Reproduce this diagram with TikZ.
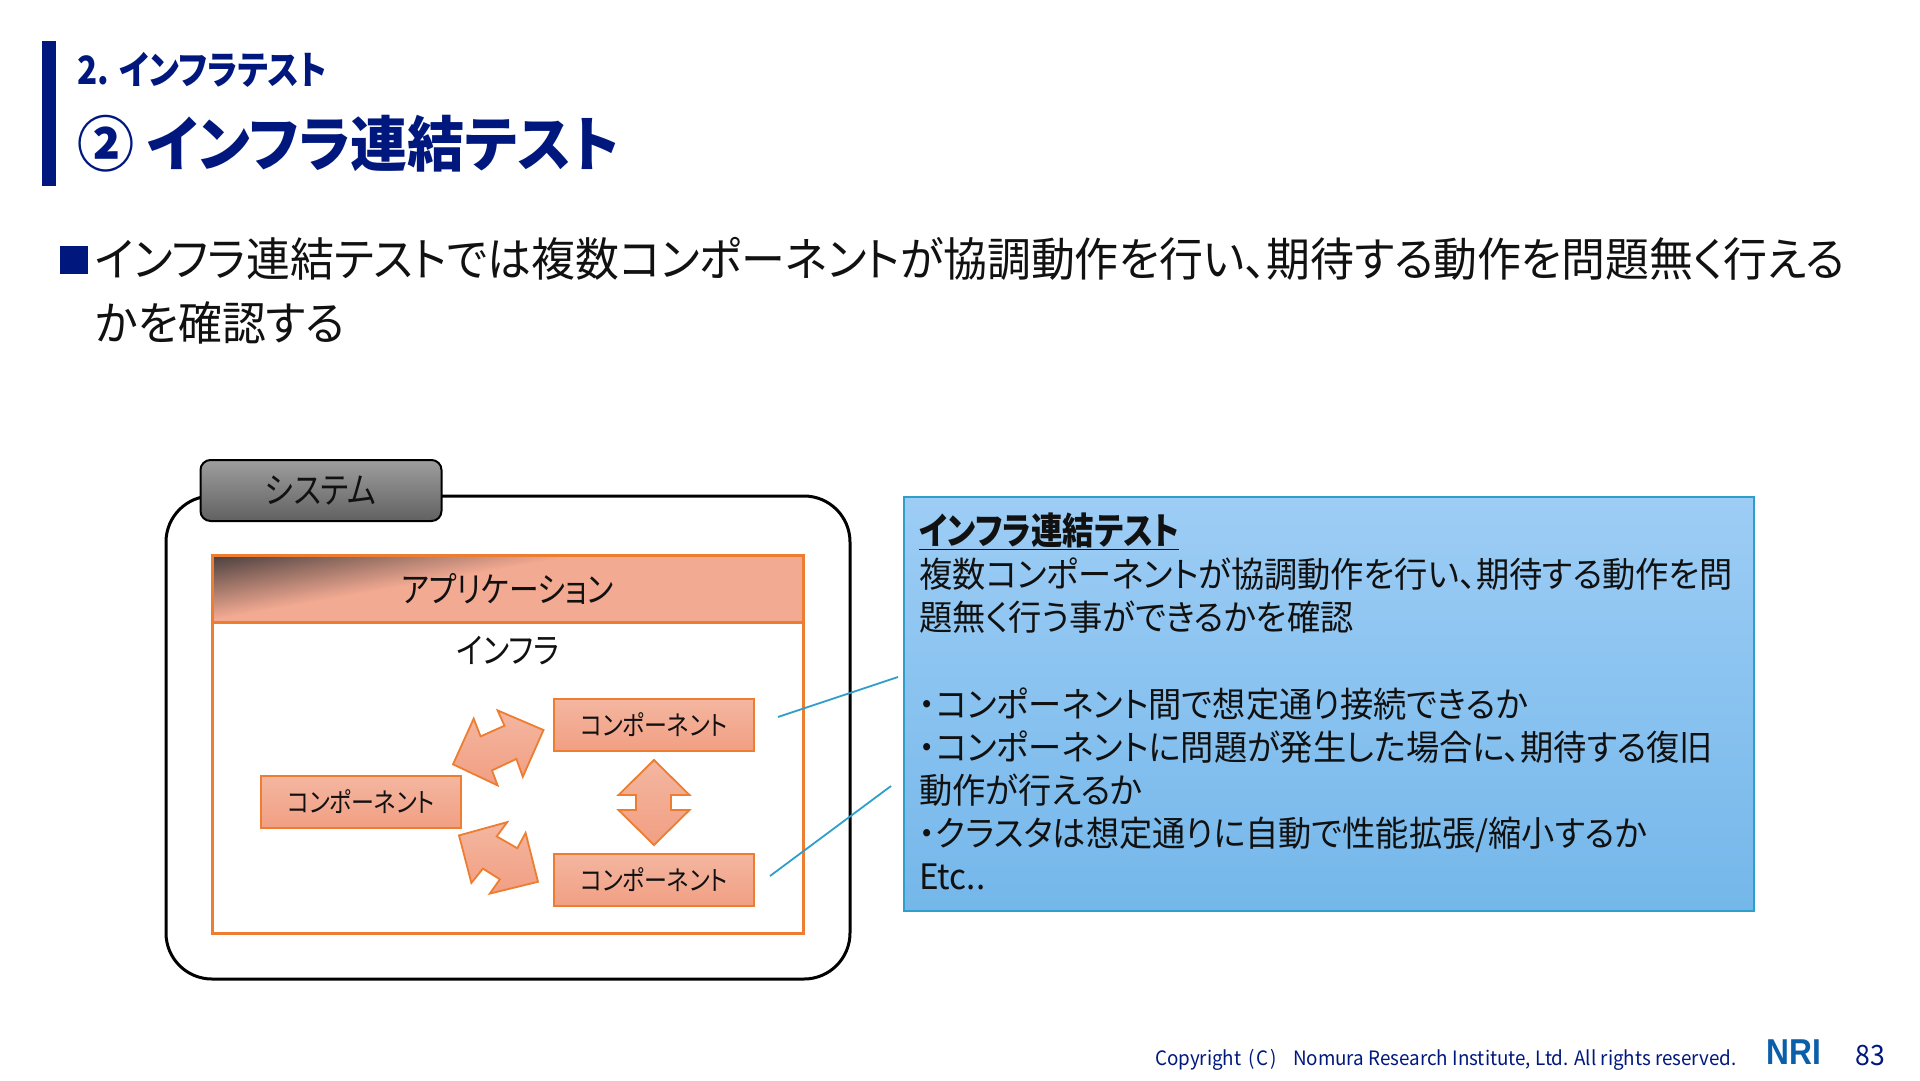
\documentclass[tikz,border=0pt]{standalone}
\usepackage{fontspec}
\usepackage{xcolor}
\usepackage{tikz}
\setmainfont{Noto Sans CJK JP}[RawFeature=+palt, FakeStretch=0.95]
\newfontfamily\kanafont{Noto Sans CJK JP}[RawFeature=+palt, FakeStretch=0.85]
\newfontfamily\logofont{Liberation Sans}[FakeStretch=0.88]
\definecolor{nrinavy}{HTML}{00187D}
\definecolor{nriblue}{HTML}{0B5FA8}
\definecolor{edgeorange}{HTML}{ED7D31}
\definecolor{salmontop}{HTML}{F4B6A0}
\definecolor{salmonlow}{HTML}{F19F83}
\definecolor{salmonhead}{HTML}{F3AA92}
\definecolor{headdark}{HTML}{453C3C}
\definecolor{notedge}{HTML}{2E9FCB}
\definecolor{notetop}{HTML}{9DCDF5}
\definecolor{notelow}{HTML}{74B7EA}
\definecolor{inktext}{HTML}{111111}
\tikzset{
    compbox/.style={draw=edgeorange, line width=2.5pt, top color=salmontop, bottom color=salmonlow, minimum width=200pt, minimum height=52pt, inner sep=0pt, text=inktext, font=\kanafont\fontsize{27}{30}\selectfont},
    dualarrow/.style={draw=edgeorange, line width=1.8pt, top color=salmontop, bottom color=salmonlow, line join=miter},
    leader/.style={draw=notedge, line width=1.8pt},
    boxtitle/.style={inner sep=0pt, text=inktext, font=\kanafont\fontsize{35}{40}\selectfont}
}
\begin{document}
\begin{tikzpicture}[x=1pt, y=-1pt]
    \useasboundingbox (0,0) rectangle (1920,1080);
    % Heading
    \fill[nrinavy] (42,40.5) rectangle (56,186);
    \node[anchor=west, inner sep=0pt, text=nrinavy, font=\kanafont\fontsize{39}{40}\selectfont\bfseries] (sectionhead) at (77,70) {2. インフラテスト};
    \node[anchor=west, inner sep=0pt, text=nrinavy, font=\fontsize{60}{64}\selectfont\bfseries] (pagehead) at (77,144) {② インフラ連結テスト};
    % Lead sentence
    \fill[nrinavy] (60,246) rectangle (88,274);
    \node[anchor=north west, inner sep=0pt, align=left, text=inktext, font=\fontsize{46.2}{64}\selectfont] (lead) at (95,237) {インフラ連結テストでは複数コンポーネントが協調動作を行い、期待する動作を問題無く行える\\かを確認する};
    % System frame
    \draw[black, line width=3pt, rounded corners=46pt] (166,496) rectangle (850,979);
    \node[draw=black, line width=2pt, rounded corners=10pt, top color=black!38, bottom color=black!62, minimum width=241pt, minimum height=61pt, inner sep=0pt, text=inktext, font=\kanafont\fontsize{36}{40}\selectfont] (system) at (321,490.5) {システム};
    % Infra and application
    \draw[edgeorange, line width=3pt, fill=white] (212,622) rectangle (803,933.5);
    \fill[salmonhead] (212,555) rectangle (803,622);
    \foreach \s in {66,64,...,2} {
        \pgfmathsetmacro{\darkmix}{100*(1-\s/66)}
        \fill[headdark!\darkmix!salmonhead] (212,555) -- (212,555+\s) -- (212+5.68*\s,555) -- cycle;
    }
    \draw[edgeorange, line width=3pt] (212,555) rectangle (803,622);
    \node[boxtitle] (application) at (508,589) {アプリケーション};
    \node[boxtitle] (infra) at (508,651) {インフラ};
    % Components
    \node[compbox] (compTop) at (654,725) {コンポーネント};
    \node[compbox] (compLeft) at (361,802) {コンポーネント};
    \node[compbox] (compLow) at (654,880) {コンポーネント};
    % Links between components
    \draw[dualarrow] (543.5,730) -- (497.6,710.4) -- (504.5,725.7) -- (480.6,736.4) -- (473.7,718.6) -- (453,764.3) -- (497.6,785.4) -- (492,770.4) -- (516.4,758.9) -- (522.8,776.8) -- cycle;
    \draw[dualarrow] (459,835.4) -- (507.2,822.1) -- (496.7,836.4) -- (517.3,848.2) -- (525.6,832.9) -- (538,881.8) -- (489.8,893.6) -- (499.9,879.3) -- (482.9,868.6) -- (471.4,882.9) -- cycle;
    \draw[dualarrow] (654,760) -- (689.5,795) -- (671,795) -- (671,810) -- (689.5,810) -- (654,845) -- (618.5,810) -- (636,810) -- (636,795) -- (618.5,795) -- cycle;
    % Note
    \node[draw=notedge, line width=2pt, top color=notetop, bottom color=notelow, minimum width=850pt, minimum height=414pt, anchor=north west, inner sep=0pt] (note) at (903,496) {};
    \node[anchor=north west, inner sep=0pt, align=left, text=inktext, font=\fontsize{35}{43.2}\selectfont] (noteText) at (919,512.5) {{\kanafont\bfseries\fontsize{37}{43.2}\selectfont\underline{インフラ連結テスト}}\\複数コンポーネントが協調動作を行い、期待する動作を問\\題無く行う事ができるかを確認\\ \\・コンポーネント間で想定通り接続できるか\\・コンポーネントに問題が発生した場合に、期待する復旧\\動作が行えるか\\・クラスタは想定通りに自動で性能拡張/縮小するか\\Etc..};
    % Leaders
    \coordinate (leadTopA) at (778,717);
    \coordinate (leadTopB) at (898,677);
    \coordinate (leadLowA) at (770,876);
    \coordinate (leadLowB) at (891,786);
    \draw[leader] (leadTopA) -- (leadTopB);
    \draw[leader] (leadLowA) -- (leadLowB);
    % Footer
    \node[anchor=east, inner sep=0pt, text=nrinavy, font=\fontsize{19.8}{24}\selectfont] (copyright) at (1737,1060) {Copyright\hspace{7pt}(\hspace{2pt}C\hspace{2pt})\hspace{16pt}Nomura Research Institute, Ltd. All rights reserved.};
    \node[inner sep=0pt, text=nriblue, font=\logofont\fontsize{36}{36}\selectfont\bfseries] (logo) at (1794,1052) {NRI};
    \node[inner sep=0pt, text=nrinavy, font=\fontsize{28}{30}\selectfont] (pageno) at (1870,1056) {83};
\end{tikzpicture}
\end{document}
